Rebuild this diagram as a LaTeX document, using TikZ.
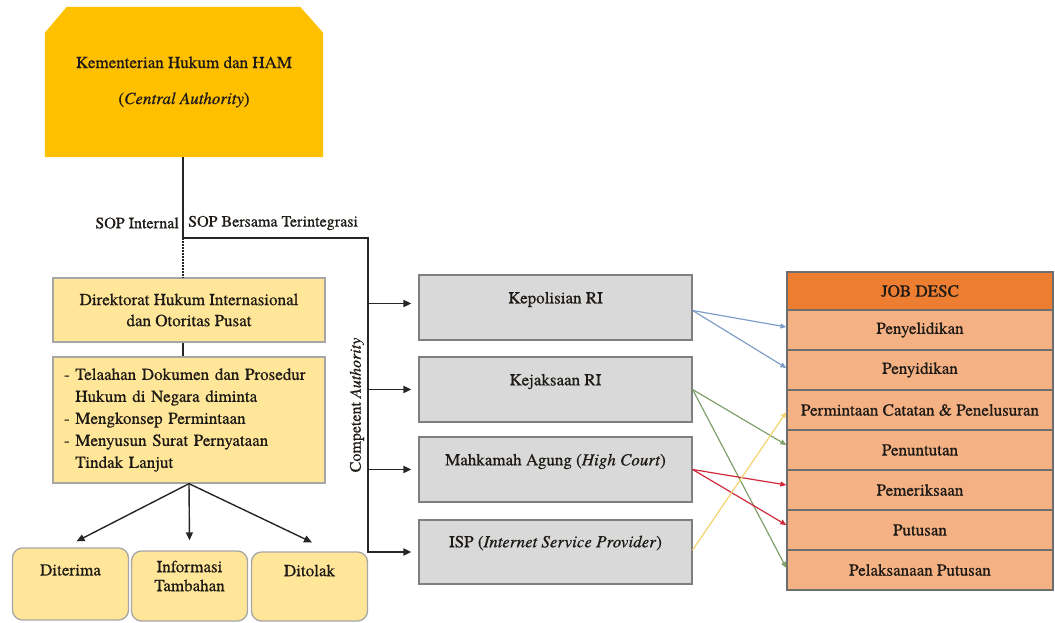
\documentclass[tikz,border=0pt]{standalone}
\usepackage{fontspec}
\setmainfont{texgyretermes}[Extension=.otf,UprightFont=*-regular,ItalicFont=*-italic,BoldFont=*-bold,
  UprightFeatures={FakeBold=0.5},ItalicFeatures={FakeBold=0.5}]
\usetikzlibrary{arrows.meta,backgrounds}
\definecolor{gold}{HTML}{FFC000}
\definecolor{lightgold}{HTML}{FFE699}
\definecolor{goldborder}{HTML}{A6A6A6}
\definecolor{graybox}{HTML}{D9D9D9}
\definecolor{grayborder}{HTML}{7F7F7F}
\definecolor{hdrorange}{HTML}{ED7D31}
\definecolor{roworange}{HTML}{F4B183}
\definecolor{rowsep}{HTML}{6E6E6E}
\definecolor{txt}{HTML}{1E1A16}
\definecolor{arrblue}{HTML}{7F9FC8}
\definecolor{arrgreen}{HTML}{7FA06A}
\definecolor{arrred}{HTML}{D02A3A}
\definecolor{arryellow}{HTML}{F3D46C}
\begin{document}
\begin{tikzpicture}[x=1pt,y=-1pt,
  every node/.style={text=txt},
  bodyfont/.style={font=\fontsize{17}{21}\selectfont},
  yellowbox/.style={bodyfont,draw=goldborder,fill=lightgold,line width=1.3pt,inner sep=0pt,align=center},
  bottombox/.style={draw=goldborder,fill=lightgold,line width=1.3pt,rounded corners=10pt,minimum width=116pt,minimum height=70pt,inner sep=0pt},
  graybx/.style={draw=grayborder,fill=graybox,line width=1.2pt,minimum width=273pt,minimum height=65pt,inner sep=0pt},
  lbl/.style={bodyfont,inner sep=0pt,align=center},
  hdrrow/.style={bodyfont,draw=rowsep,fill=hdrorange,line width=1.3pt,minimum width=266pt,minimum height=38pt,inner sep=0pt},
  jobrow/.style={bodyfont,draw=rowsep,fill=roworange,line width=1.3pt,minimum width=266pt,minimum height=40pt,inner sep=0pt},
  conn/.style={draw=black!85,line width=2pt},
  blkarrow/.style={draw=black!85,line width=1.7pt,-{Triangle[length=8pt,width=7pt]}},
  colarrow/.style={line width=1.2pt,-{Triangle[length=6pt,width=5pt]}}
]
\useasboundingbox (0,0) rectangle (1055,623);

% Top box
\node[bodyfont,minimum width=278pt,minimum height=150pt,inner sep=0pt,align=center] (ka) at (184,82)
  {Kementerian Hukum dan HAM\\[15pt](\textit{Central Authority})};
\begin{scope}[on background layer]
\fill[gold] ([yshift=-26pt]ka.north west) -- ([xshift=22pt]ka.north west) -- ([xshift=-23pt]ka.north east)
  -- ([yshift=-26pt]ka.north east) -- (ka.south east) -- (ka.south west) -- cycle;
\end{scope}

% SOP labels
\node[font=\fontsize{16}{19}\selectfont,anchor=east,inner sep=0pt] (sopi) at (179,223) {SOP Internal};
\node[font=\fontsize{16}{19}\selectfont,anchor=west,inner sep=0pt] (sopb) at (188,223) {SOP Bersama Terintegrasi};

% Left column boxes
\node[yellowbox,minimum width=272pt,minimum height=64pt] (dir) at (189,310)
  {Direktorat Hukum Internasional\\dan Otoritas Pusat};
\node[yellowbox,text width=250pt,inner xsep=11pt,minimum height=126pt,align=left,
  font=\fontsize{17}{22}\selectfont] (task) at (189,420)
  {- Telaahan Dokumen dan Prosedur\\\hphantom{- }Hukum di Negara diminta\\- Mengkonsep Permintaan\\- Menyusun Surat Pernyataan\\\hphantom{- }Tindak Lanjut};

% Bottom boxes
\node[bottombox,minimum height=72pt] (dit) at (70.5,584) {};
\node[bottombox] (inf) at (189.5,586) {};
\node[bottombox,minimum height=69pt] (dto) at (309.5,586.5) {};
\node[lbl] (ditl) at ([yshift=14pt]dit.center) {Diterima};
\node[lbl,font=\fontsize{17}{19}\selectfont] (infl) at ([yshift=10pt]inf.center) {Informasi\\Tambahan};
\node[lbl] (dtol) at ([yshift=16pt]dto.center) {Ditolak};

% Gray boxes
\node[graybx] (kep) at (555.5,307.5) {};
\node[graybx] (kej) at (555.5,389.5) {};
\node[graybx] (mah) at (555.5,469.5) {};
\node[graybx,minimum height=64pt] (isp) at (555.5,552) {};
\node[lbl] (kepl) at ([yshift=8pt]kep.center) {Kepolisian RI};
\node[lbl] (kejl) at ([yshift=8pt]kej.center) {Kejaksaan RI};
\node[lbl] (mahl) at ([yshift=8pt]mah.center) {Mahkamah Agung (\textit{High Court})};
\node[lbl] (ispl) at ([yshift=9pt]isp.center) {ISP (\textit{Internet Service Provider})};

% Competent Authority label
\node[font=\fontsize{16}{19}\selectfont,rotate=90,inner sep=0pt] (cal) at (357,405) {Competent \textit{Authority}};

% Job desc table
\node[hdrrow] (jd) at (920,291) {JOB DESC};
\node[jobrow] (r1) at (920,330) {Penyelidikan};
\node[jobrow] (r2) at (920,370) {Penyidikan};
\node[jobrow] (r3) at (920,410) {Permintaan Catatan \& Penelusuran};
\node[jobrow] (r4) at (920,450) {Penuntutan};
\node[jobrow] (r5) at (920,490) {Pemeriksaan};
\node[jobrow] (r6) at (920,530) {Putusan};
\node[jobrow] (r7) at (920,570) {Pelaksanaan Putusan};

% Main connectors
\coordinate (j) at (183,238);
\coordinate (cv) at (368,238);
\draw[conn] (ka.south -| j) -- (j) -- (cv) -- (cv |- isp.west);
\draw[draw=black!85,line width=1.8pt,dash pattern=on 1.5pt off 1.5pt] (j) -- (dir.north -| j);
\draw[conn] (dir.south -| j) -- (task.north -| j);

% Branch arrows to competent authorities
\draw[blkarrow] (cv |- kep.west) ++(0,-4) -- ([shift={(-7pt,4pt)}]kep.west);
\draw[blkarrow] (cv |- kej.west) -- ([xshift=-7pt]kej.west);
\draw[blkarrow] (cv |- mah.west) -- ([xshift=-7pt]mah.west);
\draw[blkarrow] ([xshift=-1pt]cv |- isp.west) -- ([xshift=-7pt]isp.west);

% Result arrows
\draw[blkarrow,line width=1.4pt] (task.south) -- ([shift={(6pt,6pt)}]dit.north);
\draw[blkarrow,line width=1.4pt] (task.south) -- ([yshift=10pt]inf.north);
\draw[blkarrow,line width=1.4pt] (task.south) -- ([shift={(2.5pt,9pt)}]dto.north);

% Colored arrows
\draw[colarrow,arrblue] ([yshift=-3pt]kep.east) -- ([yshift=3pt]r1.west);
\draw[colarrow,arrblue] ([yshift=-3pt]kep.east) -- ([yshift=2pt]r2.west);
\draw[colarrow,arrgreen] (kej.east) -- ([yshift=5pt]r4.west);
\draw[colarrow,arrgreen] (kej.east) -- ([yshift=2pt]r7.west);
\draw[colarrow,arrred] (mah.east) -- ([yshift=5pt]r5.west);
\draw[colarrow,arrred] (mah.east) -- ([yshift=5pt]r6.west);
\draw[colarrow,arryellow] ([yshift=2pt]isp.east) -- ([yshift=-2pt]r3.west);
\end{tikzpicture}
\end{document}
